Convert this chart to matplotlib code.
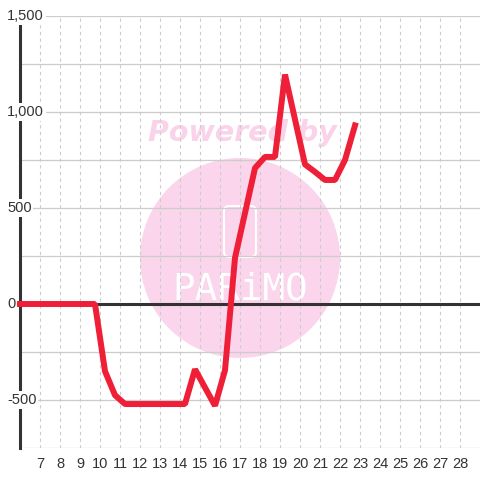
import matplotlib
matplotlib.use('Agg')
import matplotlib.pyplot as plt
from matplotlib.patches import Circle, FancyBboxPatch
from matplotlib.transforms import blended_transform_factory

# hourly series
hours = [6, 9.75, 10.25, 10.75, 11.25, 14.25, 14.75, 15.75, 16.25, 16.75,
         17.75, 18.25, 18.75, 19.25, 20.25, 20.75, 21.25, 21.75, 22.25, 22.75]
values = [0, 0, -350, -475, -521, -521, -340, -530, -345, 240,
          708, 766, 766, 1195, 727, 688, 646, 646, 750, 930]

x_ticks = list(range(7, 29))
y_grid = [-750, -500, -250, 0, 250, 500, 750, 1000, 1250, 1500]
y_labels = [-500, 0, 500, 1000, 1500]

dark = '#333333'
grid_c = '#cccccc'
red = '#ee1f36'
pink = '#fbd5eb'

plt.rcParams['font.family'] = ['Liberation Sans', 'DejaVu Sans']

fig = plt.figure(figsize=(4.8, 4.8), dpi=100)
fig.patch.set_facecolor('white')
ax = fig.add_axes([20/480, 32/480, 460/480, 432/480])
ax.set_xlim(6, 29)
ax.set_ylim(-750, 1500)

for s in ['top', 'right', 'bottom']:
    ax.spines[s].set_visible(False)
ax.spines['left'].set_color(dark)
ax.spines['left'].set_linewidth(2.2)

ax.set_axisbelow(True)
ax.set_xticks(x_ticks)
ax.set_yticks(y_grid)
ax.grid(axis='y', color=grid_c, linewidth=0.9, linestyle='-')
ax.grid(axis='x', color=grid_c, linewidth=0.8, linestyle=(0, (3, 3)))
ax.tick_params(axis='both', length=0)
ax.tick_params(axis='x', pad=6.5, labelsize=10.5, labelcolor=dark)
ax.tick_params(axis='y', labelleft=False)

# watermark
ft = fig.transFigure
ax.add_patch(Circle((240/480, (480-258)/480), 100/480, transform=ft,
                    facecolor=pink, edgecolor='none', zorder=0.2))
ax.text(242/480, (480-133)/480, 'Powered by', transform=ft, ha='center', va='center',
        fontsize=20.5, fontweight='bold', style='italic', family='DejaVu Sans',
        color='#fad2e9', zorder=0.3)
ax.add_patch(FancyBboxPatch((224/480, (480-257)/480), 32/480, 51/480, transform=ft,
                            boxstyle='round,pad=0,rounding_size=0.011',
                            facecolor='none', edgecolor='white', linewidth=1.5, zorder=0.3))
ax.text(240/480, (480-289)/480, 'PARiMO', transform=ft, ha='center', va='center',
        fontsize=27, family='DejaVu Sans Mono', color='white', zorder=0.3)

ax.axhline(0, color=dark, linewidth=2.2, zorder=3)

ax.plot(hours, values, color=red, linewidth=4.3, solid_capstyle='projecting',
        solid_joinstyle='bevel', clip_on=False, zorder=4)

tr = blended_transform_factory(ax.transAxes, ax.transData)
for v in y_labels:
    ax.text(-13/460, v, f'{v:,}', transform=tr, ha='left', va='center',
            fontsize=10.5, color=dark, zorder=5, clip_on=False,
            bbox=dict(boxstyle='square,pad=0.12', facecolor='white', edgecolor='none'))

fig.savefig('out.png', dpi=100)
